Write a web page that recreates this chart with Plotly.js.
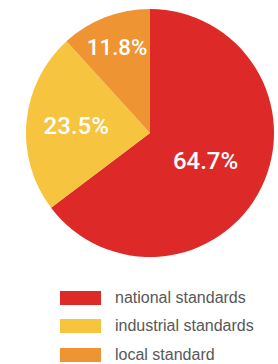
<!DOCTYPE html>
<html>
<head>
<meta charset="utf-8">
<script src="https://cdn.plot.ly/plotly-3.0.1.min.js"></script>
<style>
html,body{margin:0;padding:0;background:#fff;}
#chart{width:278px;height:364px;}
</style>
</head>
<body>
<div id="chart"></div>
<script>
const labels = ["national standards", "industrial standards", "local standard"];
const values = [11, 4, 2];
const colors = ["#DD2A28", "#F7C43F", "#EE9433"];

const W = 278, H = 364;
const cx = 150, cy = 133, r = 124;

const trace = {
  type: "pie",
  labels: labels,
  values: values,
  sort: false,
  direction: "clockwise",
  rotation: 0,
  marker: {colors: colors, line: {width: 0}},
  textinfo: "percent",
  texttemplate: "%{percent:.1%}",
  textposition: "inside",
  insidetextorientation: "horizontal",
  insidetextfont: {family: "Roboto, sans-serif", size: 24, color: "#ffffff", weight: 500},
  hoverinfo: "none",
  showlegend: false,
  domain: {x: [(cx - r) / W, (cx + r) / W], y: [1 - (cy + r) / H, 1 - (cy - r) / H]}
};

const shapes = [];
const annotations = [];
const legendTop = [291, 319, 348];
labels.forEach((lab, i) => {
  const y0 = legendTop[i], y1 = y0 + 14;
  shapes.push({
    type: "rect", xref: "paper", yref: "paper",
    x0: 60 / W, x1: 101 / W, y0: 1 - y1 / H, y1: 1 - y0 / H,
    fillcolor: colors[i], line: {width: 0}
  });
  annotations.push({
    xref: "paper", yref: "paper", x: 113 / W, y: 1 - (y0 + 6.5) / H,
    xanchor: "left", yanchor: "middle", showarrow: false,
    text: lab, font: {family: "Liberation Sans, Arial, sans-serif", size: 16, color: "#585858"}
  });
});

const layout = {
  width: W, height: H,
  margin: {l: 0, r: 0, t: 0, b: 0},
  paper_bgcolor: "#ffffff",
  shapes: shapes,
  annotations: annotations
};

Plotly.newPlot("chart", [trace], layout, {displayModeBar: false, staticPlot: true});
</script>
</body>
</html>
